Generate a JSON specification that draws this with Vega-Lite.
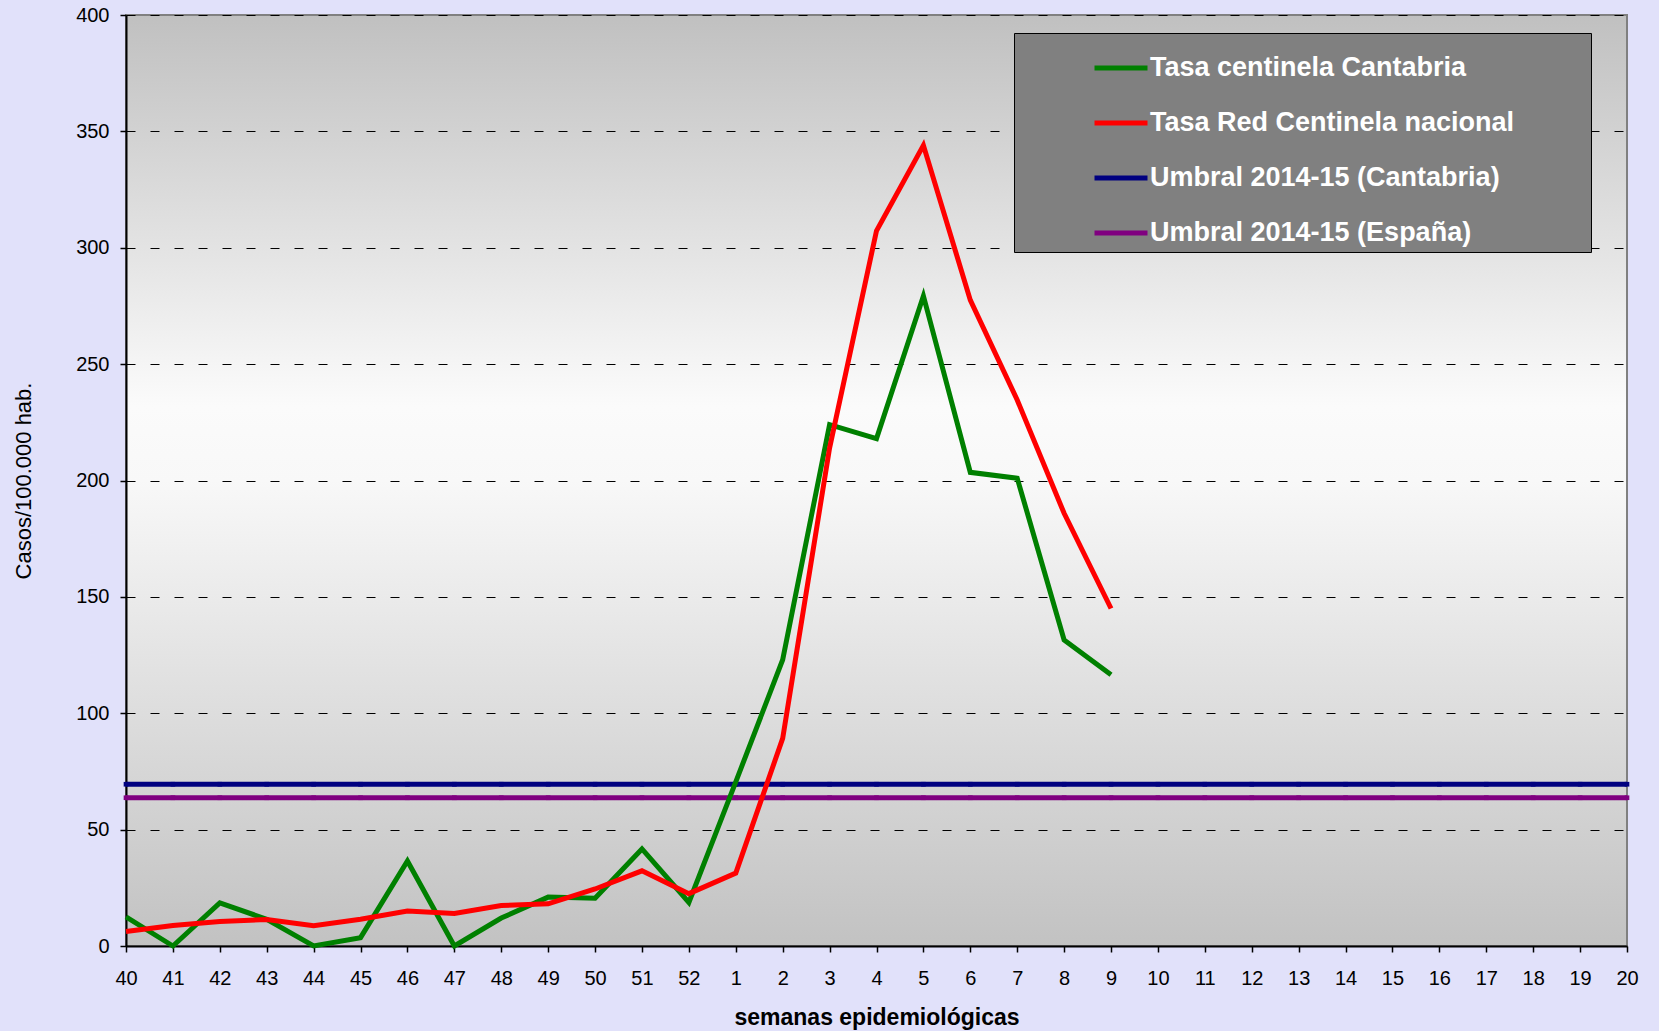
{
  "$schema": "https://vega.github.io/schema/vega-lite/v6.json",
  "width": 1501,
  "height": 931,
  "autosize": "none",
  "padding": {"left": 126, "top": 15, "right": 32, "bottom": 85},
  "background": "#e1e1fa",
  "config": {
    "font": "Liberation Sans",
    "view": {
      "stroke": "#808080",
      "strokeWidth": 2,
      "fill": {"gradient": "linear", "x1": 0, "y1": 0, "x2": 0, "y2": 1,
        "stops": [
          {"offset": 0, "color": "#c0c0c0"},
          {"offset": 0.42, "color": "#fbfbfb"},
          {"offset": 0.5, "color": "#f8f8f8"},
          {"offset": 1, "color": "#c2c2c2"}
        ]}
    },
    "axis": {
      "domainColor": "black",
      "domainWidth": 2,
      "tickColor": "black",
      "tickWidth": 1.5,
      "tickSize": 6,
      "labelColor": "black",
      "labelFontSize": 20,
      "titleColor": "black"
    },
    "legend": {
      "orient": "none",
      "legendX": 888,
      "legendY": 18,
      "fillColor": "#808080",
      "strokeColor": "black",
      "padding": 6,
      "symbolType": "stroke",
      "symbolSize": 2809,
      "symbolOffset": 72,
      "labelOffset": 0,
      "labelColor": "white",
      "labelFontSize": 27,
      "labelFontWeight": "bold",
      "labelLimit": 600,
      "rowPadding": 13,
      "titleOrient": "right",
      "titleColor": "#808080",
      "titlePadding": 67
    }
  },
  "data": {
    "values": [
      {"week": "40", "serie": "Tasa centinela Cantabria", "value": 12.5},
      {"week": "41", "serie": "Tasa centinela Cantabria", "value": 0},
      {"week": "42", "serie": "Tasa centinela Cantabria", "value": 18.5},
      {"week": "43", "serie": "Tasa centinela Cantabria", "value": 11.5},
      {"week": "44", "serie": "Tasa centinela Cantabria", "value": 0},
      {"week": "45", "serie": "Tasa centinela Cantabria", "value": 3.6},
      {"week": "46", "serie": "Tasa centinela Cantabria", "value": 36.5},
      {"week": "47", "serie": "Tasa centinela Cantabria", "value": 0},
      {"week": "48", "serie": "Tasa centinela Cantabria", "value": 12},
      {"week": "49", "serie": "Tasa centinela Cantabria", "value": 21},
      {"week": "50", "serie": "Tasa centinela Cantabria", "value": 20.5},
      {"week": "51", "serie": "Tasa centinela Cantabria", "value": 41.7},
      {"week": "52", "serie": "Tasa centinela Cantabria", "value": 18.7},
      {"week": "1", "serie": "Tasa centinela Cantabria", "value": 70.5},
      {"week": "2", "serie": "Tasa centinela Cantabria", "value": 123},
      {"week": "3", "serie": "Tasa centinela Cantabria", "value": 224},
      {"week": "4", "serie": "Tasa centinela Cantabria", "value": 218},
      {"week": "5", "serie": "Tasa centinela Cantabria", "value": 279.3},
      {"week": "6", "serie": "Tasa centinela Cantabria", "value": 203.5},
      {"week": "7", "serie": "Tasa centinela Cantabria", "value": 201},
      {"week": "8", "serie": "Tasa centinela Cantabria", "value": 131.5},
      {"week": "9", "serie": "Tasa centinela Cantabria", "value": 116.5},
      {"week": "40", "serie": "Tasa Red Centinela nacional", "value": 6.2},
      {"week": "41", "serie": "Tasa Red Centinela nacional", "value": 8.8},
      {"week": "42", "serie": "Tasa Red Centinela nacional", "value": 10.5},
      {"week": "43", "serie": "Tasa Red Centinela nacional", "value": 11.4},
      {"week": "44", "serie": "Tasa Red Centinela nacional", "value": 8.7},
      {"week": "45", "serie": "Tasa Red Centinela nacional", "value": 11.5},
      {"week": "46", "serie": "Tasa Red Centinela nacional", "value": 15},
      {"week": "47", "serie": "Tasa Red Centinela nacional", "value": 14},
      {"week": "48", "serie": "Tasa Red Centinela nacional", "value": 17.4},
      {"week": "49", "serie": "Tasa Red Centinela nacional", "value": 18.1},
      {"week": "50", "serie": "Tasa Red Centinela nacional", "value": 24.5},
      {"week": "51", "serie": "Tasa Red Centinela nacional", "value": 32.3},
      {"week": "52", "serie": "Tasa Red Centinela nacional", "value": 22.5},
      {"week": "1", "serie": "Tasa Red Centinela nacional", "value": 31.3},
      {"week": "2", "serie": "Tasa Red Centinela nacional", "value": 89.2},
      {"week": "3", "serie": "Tasa Red Centinela nacional", "value": 214},
      {"week": "4", "serie": "Tasa Red Centinela nacional", "value": 307.3},
      {"week": "5", "serie": "Tasa Red Centinela nacional", "value": 344},
      {"week": "6", "serie": "Tasa Red Centinela nacional", "value": 277.5},
      {"week": "7", "serie": "Tasa Red Centinela nacional", "value": 234.6},
      {"week": "8", "serie": "Tasa Red Centinela nacional", "value": 185.9},
      {"week": "9", "serie": "Tasa Red Centinela nacional", "value": 145},
      {"week": "40", "serie": "Umbral 2014-15 (Cantabria)", "value": 69.5},
      {"week": "41", "serie": "Umbral 2014-15 (Cantabria)", "value": 69.5},
      {"week": "42", "serie": "Umbral 2014-15 (Cantabria)", "value": 69.5},
      {"week": "43", "serie": "Umbral 2014-15 (Cantabria)", "value": 69.5},
      {"week": "44", "serie": "Umbral 2014-15 (Cantabria)", "value": 69.5},
      {"week": "45", "serie": "Umbral 2014-15 (Cantabria)", "value": 69.5},
      {"week": "46", "serie": "Umbral 2014-15 (Cantabria)", "value": 69.5},
      {"week": "47", "serie": "Umbral 2014-15 (Cantabria)", "value": 69.5},
      {"week": "48", "serie": "Umbral 2014-15 (Cantabria)", "value": 69.5},
      {"week": "49", "serie": "Umbral 2014-15 (Cantabria)", "value": 69.5},
      {"week": "50", "serie": "Umbral 2014-15 (Cantabria)", "value": 69.5},
      {"week": "51", "serie": "Umbral 2014-15 (Cantabria)", "value": 69.5},
      {"week": "52", "serie": "Umbral 2014-15 (Cantabria)", "value": 69.5},
      {"week": "1", "serie": "Umbral 2014-15 (Cantabria)", "value": 69.5},
      {"week": "2", "serie": "Umbral 2014-15 (Cantabria)", "value": 69.5},
      {"week": "3", "serie": "Umbral 2014-15 (Cantabria)", "value": 69.5},
      {"week": "4", "serie": "Umbral 2014-15 (Cantabria)", "value": 69.5},
      {"week": "5", "serie": "Umbral 2014-15 (Cantabria)", "value": 69.5},
      {"week": "6", "serie": "Umbral 2014-15 (Cantabria)", "value": 69.5},
      {"week": "7", "serie": "Umbral 2014-15 (Cantabria)", "value": 69.5},
      {"week": "8", "serie": "Umbral 2014-15 (Cantabria)", "value": 69.5},
      {"week": "9", "serie": "Umbral 2014-15 (Cantabria)", "value": 69.5},
      {"week": "10", "serie": "Umbral 2014-15 (Cantabria)", "value": 69.5},
      {"week": "11", "serie": "Umbral 2014-15 (Cantabria)", "value": 69.5},
      {"week": "12", "serie": "Umbral 2014-15 (Cantabria)", "value": 69.5},
      {"week": "13", "serie": "Umbral 2014-15 (Cantabria)", "value": 69.5},
      {"week": "14", "serie": "Umbral 2014-15 (Cantabria)", "value": 69.5},
      {"week": "15", "serie": "Umbral 2014-15 (Cantabria)", "value": 69.5},
      {"week": "16", "serie": "Umbral 2014-15 (Cantabria)", "value": 69.5},
      {"week": "17", "serie": "Umbral 2014-15 (Cantabria)", "value": 69.5},
      {"week": "18", "serie": "Umbral 2014-15 (Cantabria)", "value": 69.5},
      {"week": "19", "serie": "Umbral 2014-15 (Cantabria)", "value": 69.5},
      {"week": "20", "serie": "Umbral 2014-15 (Cantabria)", "value": 69.5},
      {"week": "40", "serie": "Umbral 2014-15 (España)", "value": 63.7},
      {"week": "41", "serie": "Umbral 2014-15 (España)", "value": 63.7},
      {"week": "42", "serie": "Umbral 2014-15 (España)", "value": 63.7},
      {"week": "43", "serie": "Umbral 2014-15 (España)", "value": 63.7},
      {"week": "44", "serie": "Umbral 2014-15 (España)", "value": 63.7},
      {"week": "45", "serie": "Umbral 2014-15 (España)", "value": 63.7},
      {"week": "46", "serie": "Umbral 2014-15 (España)", "value": 63.7},
      {"week": "47", "serie": "Umbral 2014-15 (España)", "value": 63.7},
      {"week": "48", "serie": "Umbral 2014-15 (España)", "value": 63.7},
      {"week": "49", "serie": "Umbral 2014-15 (España)", "value": 63.7},
      {"week": "50", "serie": "Umbral 2014-15 (España)", "value": 63.7},
      {"week": "51", "serie": "Umbral 2014-15 (España)", "value": 63.7},
      {"week": "52", "serie": "Umbral 2014-15 (España)", "value": 63.7},
      {"week": "1", "serie": "Umbral 2014-15 (España)", "value": 63.7},
      {"week": "2", "serie": "Umbral 2014-15 (España)", "value": 63.7},
      {"week": "3", "serie": "Umbral 2014-15 (España)", "value": 63.7},
      {"week": "4", "serie": "Umbral 2014-15 (España)", "value": 63.7},
      {"week": "5", "serie": "Umbral 2014-15 (España)", "value": 63.7},
      {"week": "6", "serie": "Umbral 2014-15 (España)", "value": 63.7},
      {"week": "7", "serie": "Umbral 2014-15 (España)", "value": 63.7},
      {"week": "8", "serie": "Umbral 2014-15 (España)", "value": 63.7},
      {"week": "9", "serie": "Umbral 2014-15 (España)", "value": 63.7},
      {"week": "10", "serie": "Umbral 2014-15 (España)", "value": 63.7},
      {"week": "11", "serie": "Umbral 2014-15 (España)", "value": 63.7},
      {"week": "12", "serie": "Umbral 2014-15 (España)", "value": 63.7},
      {"week": "13", "serie": "Umbral 2014-15 (España)", "value": 63.7},
      {"week": "14", "serie": "Umbral 2014-15 (España)", "value": 63.7},
      {"week": "15", "serie": "Umbral 2014-15 (España)", "value": 63.7},
      {"week": "16", "serie": "Umbral 2014-15 (España)", "value": 63.7},
      {"week": "17", "serie": "Umbral 2014-15 (España)", "value": 63.7},
      {"week": "18", "serie": "Umbral 2014-15 (España)", "value": 63.7},
      {"week": "19", "serie": "Umbral 2014-15 (España)", "value": 63.7},
      {"week": "20", "serie": "Umbral 2014-15 (España)", "value": 63.7}
    ]
  },
  "encoding": {
    "x": {
      "field": "week",
      "type": "ordinal",
      "sort": null,
      "scale": {
        "type": "point",
        "padding": 0,
        "domain": ["40","41","42","43","44","45","46","47","48","49","50","51","52","1","2","3","4","5","6","7","8","9","10","11","12","13","14","15","16","17","18","19","20"]
      },
      "axis": {
        "title": "semanas epidemiológicas",
        "titleFontSize": 23,
        "titleFontWeight": "bold",
        "titlePadding": 18,
        "labelAngle": 0,
        "labelPadding": 16,
        "grid": false
      }
    },
    "y": {
      "field": "value",
      "type": "quantitative",
      "scale": {"domain": [0, 400], "nice": false},
      "axis": {
        "title": "Casos/100.000 hab.",
        "titleFontSize": 22,
        "titleFontWeight": "normal",
        "titlePadding": 40,
        "values": [0, 50, 100, 150, 200, 250, 300, 350, 400],
        "labelPadding": 11,
        "grid": true,
        "gridColor": "black",
        "gridWidth": 1,
        "gridDash": [9, 15]
      }
    },
    "color": {
      "field": "serie",
      "type": "nominal",
      "scale": {
        "domain": ["Tasa centinela Cantabria", "Tasa Red Centinela nacional", "Umbral 2014-15 (Cantabria)", "Umbral 2014-15 (España)"],
        "range": ["#008000", "#ff0000", "#000080", "#800080"]
      },
      "legend": {"title": "."}
    },
    "strokeWidth": {
      "field": "serie",
      "type": "nominal",
      "scale": {
        "domain": ["Tasa centinela Cantabria", "Tasa Red Centinela nacional", "Umbral 2014-15 (Cantabria)", "Umbral 2014-15 (España)"],
        "range": [5, 5, 3, 3]
      },
      "legend": {"title": "."}
    }
  },
  "layer": [
    {
      "transform": [{"filter": "indexof(datum.serie, 'Umbral') === 0"}],
      "mark": {"type": "line", "strokeCap": "butt"}
    },
    {
      "transform": [{"filter": "indexof(datum.serie, 'Umbral') === 0"}],
      "mark": {"type": "point", "shape": "square", "filled": true, "size": 22, "opacity": 1},
      "encoding": {"strokeWidth": {"value": 0}}
    },
    {
      "transform": [{"filter": "datum.serie === 'Tasa centinela Cantabria'"}],
      "mark": {"type": "line", "strokeJoin": "miter", "strokeCap": "butt"}
    },
    {
      "transform": [{"filter": "datum.serie === 'Tasa Red Centinela nacional'"}],
      "mark": {"type": "line", "strokeJoin": "miter", "strokeCap": "butt"}
    }
  ]
}
